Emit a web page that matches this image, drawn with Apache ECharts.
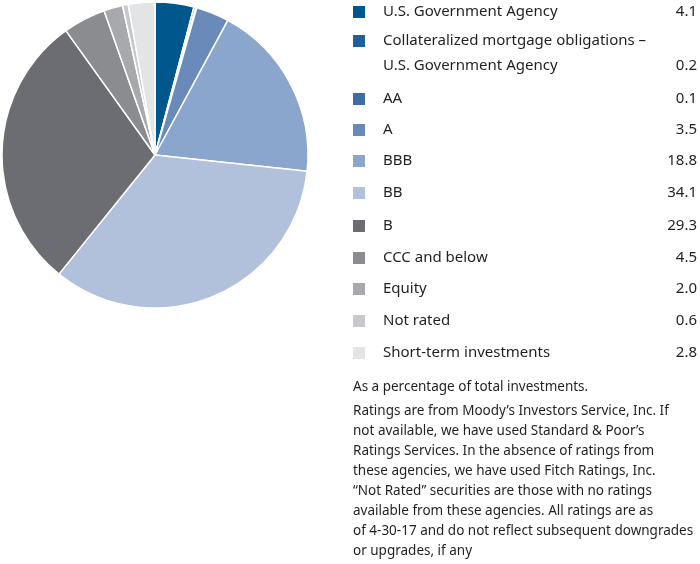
<!DOCTYPE html>
<html>
<head>
<meta charset="utf-8">
<script src="https://cdn.jsdelivr.net/npm/echarts@6/dist/echarts.min.js"></script>
<style>
  html, body { margin: 0; padding: 0; background: #fff; }
  #chart { width: 700px; height: 564px; }
</style>
</head>
<body>
<div id="chart"></div>
<script>
  // categories / values (percent of total investments)
  const categories = [
    'U.S. Government Agency',
    'Collateralized mortgage obligations –\nU.S. Government Agency',
    'AA', 'A', 'BBB', 'BB', 'B', 'CCC and below', 'Equity', 'Not rated',
    'Short-term investments'
  ];
  const values = [4.1, 0.2, 0.1, 3.5, 18.8, 34.1, 29.3, 4.5, 2.0, 0.6, 2.8];
  const colors = [
    '#00578d', '#1d609a', '#3e6ca5', '#6a8bb9', '#8ba6cc', '#b1c1dc',
    '#6c6d72', '#8b8c90', '#a8a9ad', '#c7c8cb', '#e3e4e6'
  ];
  const notes = [
    'As a percentage of total investments.',
    'Ratings are from Moody’s Investors Service, Inc. If\nnot available, we have used Standard & Poor’s\nRatings Services. In the absence of ratings from\nthese agencies, we have used Fitch Ratings, Inc.\n“Not Rated” securities are those with no ratings\navailable from these agencies. All ratings are as\nof 4-30-17 and do not reflect subsequent downgrades\nor upgrades, if any'
  ];

  const fontFamily = 'Noto Sans';
  const textColor = '#231f20';

  // legend rows (right side) built as graphic elements
  let rowY = [12, 41, 99, 130, 161, 193, 226, 258, 289, 321, 353];
  let legendEls = [];
  categories.forEach(function (name, i) {
    let y = rowY[i];
    legendEls.push({
      type: 'rect', shape: { x: 353, y: y - 6, width: 12, height: 12 },
      style: { fill: colors[i] }
    });
    let lines = name.split('\n');
    lines.forEach(function (ln, j) {
      legendEls.push({
        type: 'text', x: 383, y: y + j * 25,
        style: { text: ln, font: '15px ' + fontFamily, fill: textColor, verticalAlign: 'middle' }
      });
    });
    legendEls.push({
      type: 'text', x: 697, y: y + (lines.length - 1) * 25,
      style: { text: values[i].toFixed(1), font: '15px ' + fontFamily, fill: textColor,
               align: 'right', verticalAlign: 'middle' }
    });
  });
  legendEls.push({
    type: 'text', x: 353, y: 387,
    style: { text: notes[0], font: '13.5px ' + fontFamily, fill: textColor, verticalAlign: 'middle' }
  });
  legendEls.push({
    type: 'text', x: 353, y: 401,
    style: { text: notes[1], font: '13.5px ' + fontFamily, fill: textColor, lineHeight: 20, verticalAlign: 'top' }
  });

  let chart = echarts.init(document.getElementById('chart'));
  let option = {
    animation: false,
    color: colors,
    graphic: legendEls,
    series: [
      {
        type: 'pie',
        center: [155, 155],
        radius: [0, 153],
        startAngle: 90,
        clockwise: true,
        silent: true,
        label: { show: false },
        labelLine: { show: false },
        itemStyle: { borderColor: '#fff', borderWidth: 1.5 },
        data: categories.map(function (c, i) { return { name: c, value: values[i] }; })
      }
    ]
  };
  option && chart.setOption(option);
</script>
</body>
</html>
